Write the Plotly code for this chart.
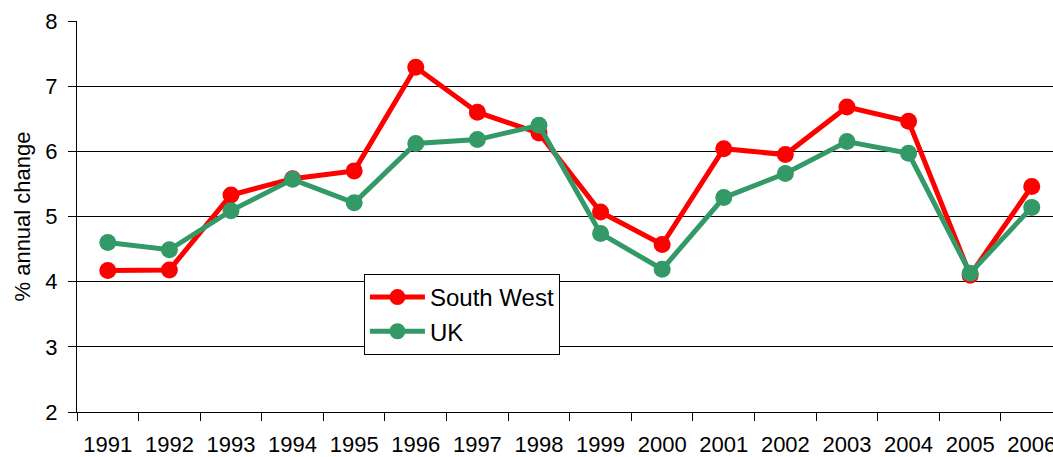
import plotly.graph_objects as go

years = ["1991", "1992", "1993", "1994", "1995", "1996", "1997", "1998",
         "1999", "2000", "2001", "2002", "2003", "2004", "2005", "2006"]
south_west = [4.17, 4.18, 5.33, 5.58, 5.70, 7.29, 6.60, 6.28,
              5.07, 4.57, 6.04, 5.95, 6.68, 6.46, 4.10, 5.46]
uk = [4.60, 4.49, 5.09, 5.57, 5.21, 6.12, 6.18, 6.40,
      4.74, 4.19, 5.29, 5.66, 6.15, 5.97, 4.13, 5.14]
y_ticks = [2, 3, 4, 5, 6, 7, 8]

FONT = "Liberation Sans, Arial, sans-serif"

fig = go.Figure()
fig.add_trace(go.Scatter(
    x=years, y=south_west, name="South West", mode="lines+markers",
    line=dict(color="#FF0000", width=5),
    marker=dict(color="#FF0000", size=17),
))
fig.add_trace(go.Scatter(
    x=years, y=uk, name="UK", mode="lines+markers",
    line=dict(color="#339966", width=5),
    marker=dict(color="#339966", size=17),
))

fig.update_layout(
    width=1053, height=457,
    margin=dict(l=77, r=0, t=21, b=45, autoexpand=False),
    paper_bgcolor="white", plot_bgcolor="white",
    font=dict(family=FONT, size=22, color="black"),
    showlegend=True,
    legend=dict(
        x=0.294, y=0.353, xanchor="left", yanchor="top",
        bordercolor="black", borderwidth=1, bgcolor="white",
        font=dict(family=FONT, size=24, color="black"),
        traceorder="normal", itemwidth=55,
    ),
)
fig.update_xaxes(
    type="category", range=[-0.5, 15.345],
    showgrid=False, showline=True, linecolor="black", linewidth=1,
    ticks="outside", tickson="boundaries", ticklen=8, tickcolor="black",
    tickfont=dict(family=FONT, size=22, color="black"),
    ticklabelstandoff=13, ticklabeloverflow="allow",
    automargin=False, fixedrange=True,
)
fig.update_yaxes(
    range=[2, 8], tickvals=y_ticks,
    showgrid=True, gridcolor="black", gridwidth=1,
    showline=True, linecolor="black", linewidth=1,
    ticks="outside", ticklen=8, tickcolor="black",
    tickfont=dict(family=FONT, size=22, color="black"),
    ticklabelstandoff=6,
    title=dict(text="% annual change", font=dict(family=FONT, size=22, color="black"), standoff=8),
    zeroline=False, automargin=False, fixedrange=True,
)

fig.write_html(
    "out.html",
    config={"displayModeBar": False, "staticPlot": True},
    post_script="document.body.style.margin='0';document.body.style.overflow='hidden';",
)
